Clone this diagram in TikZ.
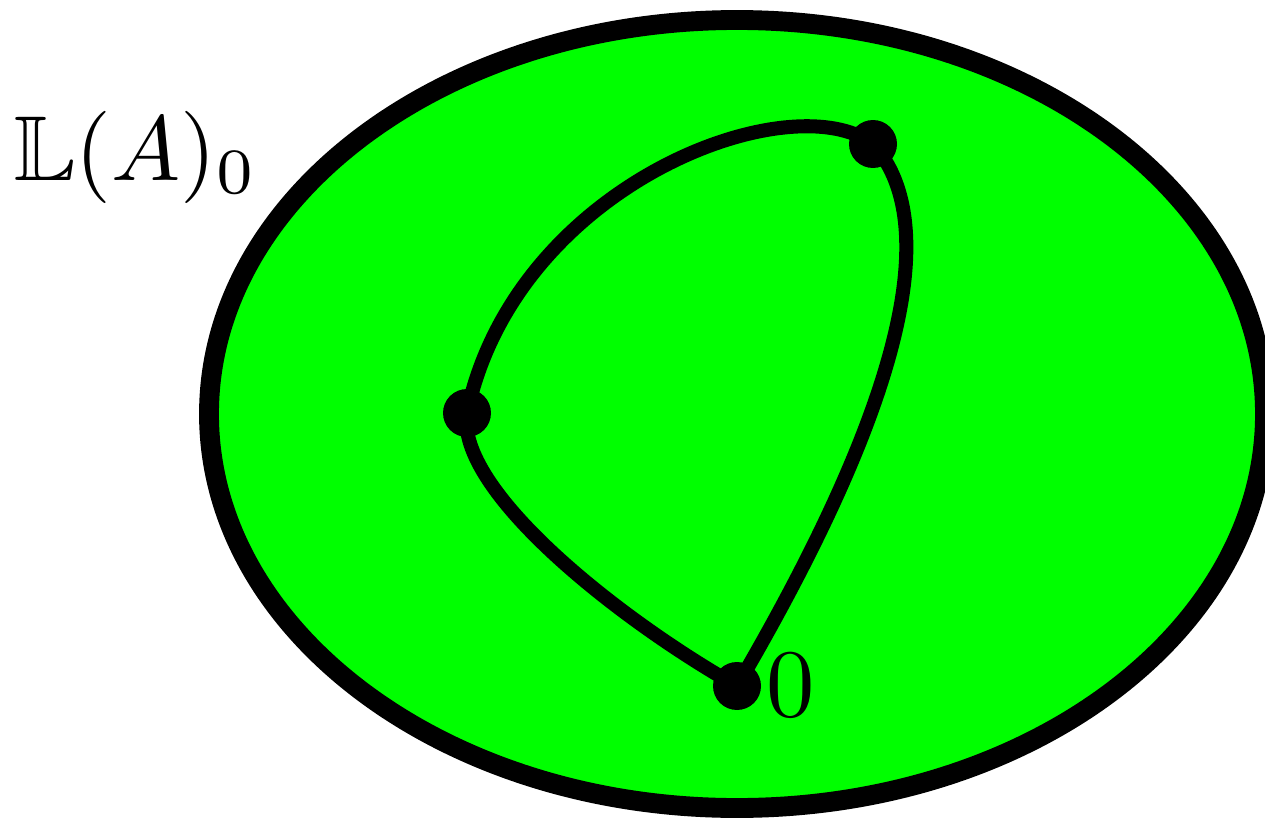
\documentclass[tikz,border=0pt]{standalone}
\usepackage{amssymb}
\definecolor{brightgreen}{RGB}{0,255,0}
\begin{document}
\begin{tikzpicture}[x=0.02cm,y=-0.02cm,
  region/.style={draw=black,fill=brightgreen,line width=11.3pt},
  path/.style={draw=black,line width=8pt},
  dot/.style={circle,fill=black,inner sep=0pt,minimum size=0.96cm},
  lbl/.style={inner sep=0pt}]
\useasboundingbox (0,0) rectangle (1265,821);
\draw[region] (737,414) ellipse [x radius=528*0.02cm, y radius=394*0.02cm];
\coordinate (t) at (873,144);
\coordinate (l) at (467,413);
\coordinate (b) at (737,686);
\draw[path] (b) .. controls (840,510) and (968,250) .. (t);
\draw[path] (t) .. controls (790,82) and (515,185) .. (l);
\draw[path] (l) .. controls (455,490) and (620,620) .. (b);
\node[dot] (T) at (t) {};
\node[dot] (L) at (l) {};
\node[dot] (B) at (b) {};
\node[lbl,anchor=base west] (zero) at (766,716) {\scalebox{5.5}{$0$}};
\node[lbl,anchor=base west] (space) at (14,180) {\scalebox{5.25}{$\mathbb{L}(A)_0$}};
\end{tikzpicture}
\end{document}
